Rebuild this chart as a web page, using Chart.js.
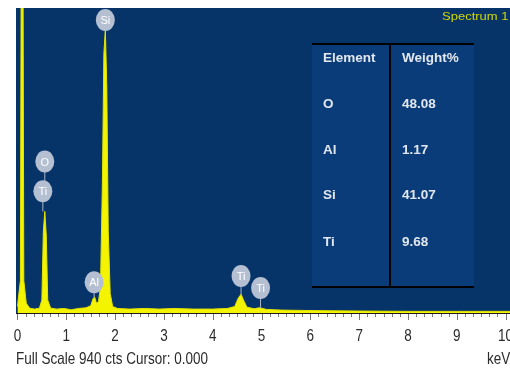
<!DOCTYPE html>
<html>
<head>
<meta charset="utf-8">
<script src="https://cdn.jsdelivr.net/npm/chart.js@4.4.0/dist/chart.umd.min.js"></script>
<style>
html, body { margin: 0; padding: 0; background: #fff; overflow: hidden; }
#wrap { width: 510px; height: 369px; position: relative; }
</style>
</head>
<body>
<div id="wrap"><canvas id="spec" width="510" height="369"></canvas></div>
<script>
// spectrum, energy in keV and counts
var energia = [0.00, 0.06, 0.08, 0.11, 0.13, 0.18, 0.25, 0.35, 0.45, 0.50, 0.53, 0.56, 0.59, 0.62, 0.68,
    0.80, 0.95, 1.10, 1.25, 1.40, 1.50, 1.55, 1.58, 1.62, 1.66, 1.70, 1.74, 1.77, 1.80, 1.83, 1.86, 1.90,
    1.95, 2.05, 2.30, 2.60, 2.90, 3.20, 3.60, 4.00, 4.30, 4.45, 4.52, 4.58, 4.63, 4.70, 4.85, 4.95, 5.00,
    5.10, 5.40, 5.80, 6.30, 7.00, 8.00, 9.00, 10.09]
var cuentas = [20, 100, 1300, 1300, 100, 30, 15, 12, 15, 40, 250, 313, 240, 40, 15,
    12, 14, 10, 14, 16, 22, 45, 49, 30, 35, 80, 400, 800, 872, 700, 250, 60,
    20, 14, 12, 14, 12, 14, 12, 12, 14, 20, 45, 58, 40, 18, 13, 16, 15,
    11, 9, 8, 7, 6, 5, 5, 5]

// axis ticks (keV)
var tickValores = [0, 1, 2, 3, 4, 5, 6, 7, 8, 9, 10]
var tickTextos = ['0', '1', '2', '3', '4', '5', '6', '7', '8', '9', '10']

// peak markers
var marcas = ['Si', 'O', 'Ti', 'Al', 'Ti', 'Ti']
var marcaE = [1.80, 0.56, 0.52, 1.57, 4.58, 4.98]
var marcaY = [903, 467, 375, 95, 114, 77]
var picoY = [872, 375, 313, 49, 58, 15]

// quantification table
var elementos = ['O', 'Al', 'Si', 'Ti']
var pesos = ['48.08', '1.17', '41.07', '9.68']

var puntos = []
for (var i = 0; i < energia.length; i++) {
    puntos.push({ x: energia[i], y: cuentas[i] })
}

function textoAlto(c, t, x, y, esc) {
    c.save()
    c.translate(x, y)
    c.scale(1, esc)
    c.fillText(t, 0, 0)
    c.restore()
}

const fondo = {
    id: 'fondo',
    beforeDraw: function (chart) {
        var c = chart.ctx, a = chart.chartArea
        c.save()
        c.fillStyle = '#063468'
        c.fillRect(a.left, a.top, a.right - a.left, a.bottom - a.top)
        // table
        c.fillStyle = '#0a3c7a'
        c.fillRect(312, 44, 162, 243)
        c.restore()
    },
    afterDraw: function (chart) {
        var c = chart.ctx, a = chart.chartArea
        var xs = chart.scales.x, ys = chart.scales.y
        c.save()
        // table lines
        c.strokeStyle = '#000'
        c.lineWidth = 2
        c.beginPath()
        c.moveTo(312, 44); c.lineTo(474, 44)
        c.moveTo(312, 287); c.lineTo(474, 287)
        c.moveTo(390, 44); c.lineTo(390, 287)
        c.stroke()
        c.fillStyle = '#e2e7ef'
        c.font = 'bold 13.5px "Liberation Sans", Arial'
        c.textBaseline = 'middle'
        c.fillText('Element', 323, 58)
        c.fillText('Weight%', 402, 58)
        var filas = [104, 150, 195, 242]
        for (var k = 0; k < elementos.length; k++) {
            c.fillText(elementos[k], 323, filas[k])
            c.fillText(pesos[k], 402, filas[k])
        }
        // peak labels
        for (var m = 0; m < marcas.length; m++) {
            var px = xs.getPixelForValue(marcaE[m])
            var py = ys.getPixelForValue(marcaY[m])
            var pk = ys.getPixelForValue(picoY[m])
            c.strokeStyle = '#aab6cc'
            c.lineWidth = 1
            c.beginPath()
            c.moveTo(px, py + 10); c.lineTo(px, pk)
            c.stroke()
            c.fillStyle = '#b4bfd2'
            c.beginPath()
            c.ellipse(px, py, 9.5, 11, 0, 0, Math.PI * 2)
            c.fill()
            c.fillStyle = '#ffffff'
            c.font = '11px "Liberation Sans", Arial'
            c.textAlign = 'center'
            c.fillText(marcas[m], px, py + 1)
        }
        c.textAlign = 'left'
        c.fillStyle = '#d2d800'
        c.font = '13px "Liberation Sans", Arial'
        textoAlto(c, 'Spectrum 1', 442, 17, 0.9)
        // axis line and ticks
        c.strokeStyle = '#1a1a1a'
        c.lineWidth = 1
        c.beginPath()
        c.moveTo(a.left, a.bottom + 0.5); c.lineTo(a.right, a.bottom + 0.5)
        c.stroke()
        c.strokeStyle = '#777'
        c.beginPath()
        for (var s = 0; s <= 60; s++) {
            var tx = Math.round(xs.getPixelForValue(s / 6)) + 0.5
            c.moveTo(tx, a.bottom + 1)
            c.lineTo(tx, a.bottom + (s % 6 == 0 ? 7 : 4))
        }
        c.stroke()
        c.fillStyle = '#2b2b2b'
        c.font = '13.5px "Liberation Sans", Arial'
        c.textAlign = 'center'
        for (var t = 0; t < tickValores.length; t++) {
            textoAlto(c, tickTextos[t], xs.getPixelForValue(tickValores[t]), 336, 1.25)
        }
        c.textAlign = 'left'
        textoAlto(c, 'Full Scale 940 cts Cursor: 0.000', 16, 359, 1.25)
        textoAlto(c, 'keV', 487, 359, 1.25)
        c.restore()
    }
}

const config = {
    type: 'scatter',
    data: {
        datasets: [{
            data: puntos,
            showLine: true,
            borderColor: '#e4e400',
            backgroundColor: '#f4f400',
            borderWidth: 1,
            pointRadius: 0,
            fill: 'origin',
            tension: 0
        }]
    },
    options: {
        responsive: false,
        animation: false,
        layout: { padding: { left: 16, right: 0, top: 8, bottom: 56 } },
        plugins: { legend: { display: false }, tooltip: { enabled: false } },
        scales: {
            x: { type: 'linear', display: false, min: -0.03, max: 10.09 },
            y: { display: false, min: 0, max: 940 }
        }
    },
    plugins: [fondo]
}

const grafico = new Chart(document.getElementById('spec'), config)
</script>
</body>
</html>
